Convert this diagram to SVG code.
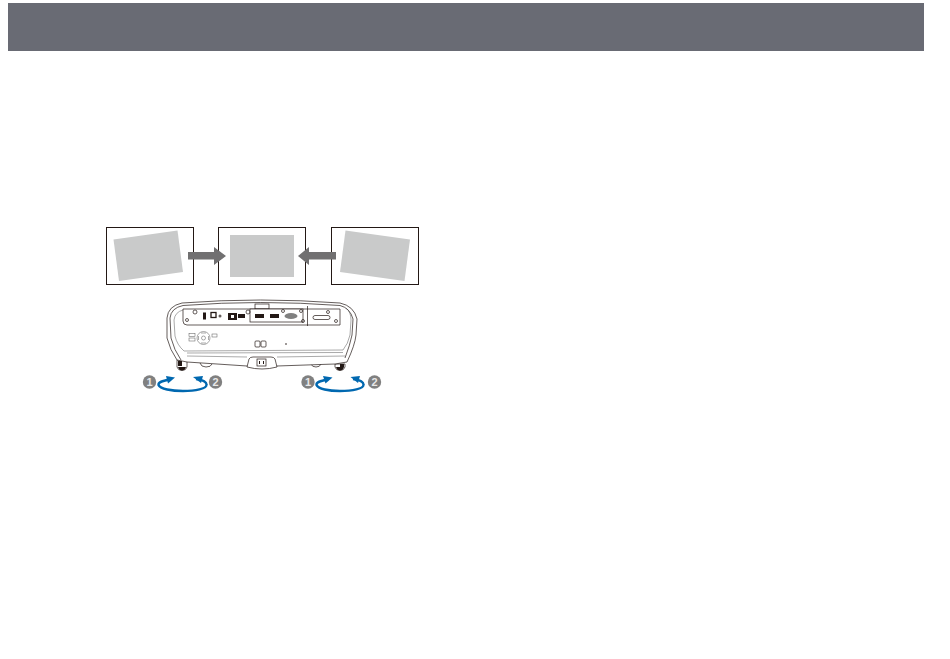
<svg xmlns="http://www.w3.org/2000/svg" width="950" height="659" viewBox="0 0 950 659">
<style>
.frame{fill:#fff;stroke:#231815;stroke-width:1}
.scr{fill:#c9caca}
.arrow{fill:#717071}
.ol{fill:none;stroke:#231815;stroke-width:.7}
.lt{fill:none;stroke:#555;stroke-width:.5}
.olw{fill:#fff;stroke:#231815;stroke-width:.7}
.blk{fill:#231815}
.rot{fill:none;stroke:#0068b0;stroke-width:2.400}
.rh{fill:#0068b0}
.bad{fill:#808080}
.num{font:bold 11px "Liberation Sans",Arial,sans-serif;fill:#e8e8e8;text-anchor:middle}
</style>
<rect width="950" height="659" fill="#fff"/>
<rect id="header" x="8" y="3" width="916" height="48" fill="#696b74"/>
<g id="screen-left"><rect class="frame" x="106.500" y="227.500" width="87" height="57"/><polygon class="scr" points="113.500,239.500 177.500,230.500 183,272 119,281"/></g>
<g id="screen-center"><rect class="frame" x="218.500" y="227.500" width="87" height="57"/><rect class="scr" x="230" y="235" width="64" height="42"/></g>
<g id="screen-right"><rect class="frame" x="331.500" y="227.500" width="87" height="57"/><polygon class="scr" points="345.500,230.500 410,239.500 404.500,281 340,272"/></g>
<g id="connectors">
<polygon class="arrow" points="188,252 214,252 214,247 226,256 214,265 214,259.500 188,259.500"/>
<polygon class="arrow" points="336,252 309,252 309,247 298,256 309,265 309,259.500 336,259.500"/>
</g>
<g id="projector">
<path class="olw" d="M177,360 h10 v7 q-1,3.500 -5,3.500 q-4,0 -5,-3.500z"/>
<path class="blk" d="M178,361 h4 v5 h-4z M178,367 h8 q-1,3.500 -4,3.500 q-3,0 -4,-3.500z"/>
<path class="olw" d="M335,364 h10 v3 q-1,3.500 -5,3.500 q-4,0 -5,-3.500z"/>
<path class="blk" d="M336,367 h8 q-1,3.500 -4,3.500 q-3,0 -4,-3.500z M340,364 h4 v3 h-4z"/>
<path class="ol" d="M200,363 q1,4 6,4 q5,0 6,-3 M311,364 q1,3 5,3 q4,0 5,-3"/>
<path class="olw" d="M167,318 Q168,306 182,303 Q260,297 340,303 Q354,306 357,319 L356,335 Q355,345 347,362 L335,364 L277,366 L247,366 L187,362 L177,360 Q170,350 167,338Z"/>
<path class="ol" d="M170,318 Q171,308 183,305.500 Q260,299.500 340,305.500 Q350,308 353,319 L352,335 Q350,345 345,358"/>
<path class="ol" d="M170,318 L171,338 Q174,350 181,360"/>
<path class="lt" d="M174,320 Q175,312 183,310 M346,308 Q351,312 351,320 L350,335 Q348,344 343,350 L184,351 Q177,345 175,336 L174,320"/>
<path class="lt" d="M187,353 L343,352.500"/>
<path class="ol" d="M183,309 L183,321 Q183,325 187,325 L305,325 M183,309 L305,309 M305,309 L340,309 L340,325 L305,325 M307.500,306 L307.500,326"/>
<rect class="ol" x="255" y="304" width="14" height="5"/>
<rect class="olw" x="250" y="309" width="53" height="13"/>
<rect class="blk" x="203" y="312.500" width="3" height="7"/>
<rect class="olw" x="211" y="312.500" width="5" height="5" style="stroke-width:1.300"/>
<circle class="blk" cx="220" cy="316" r="1.500" opacity=".7"/>
<rect class="blk" x="228" y="313" width="9" height="7"/>
<rect x="231" y="315" width="3" height="3" fill="#fff"/>
<rect class="blk" x="238" y="314" width="7" height="4"/>
<rect class="blk" x="255" y="314" width="9" height="4"/>
<rect class="blk" x="270" y="314" width="9" height="4"/>
<ellipse class="bad" cx="291" cy="316" rx="6.500" ry="3"/>
<circle class="ol" cx="195" cy="312" r="2"/><circle class="ol" cx="187" cy="320" r="1.500"/><circle class="ol" cx="248" cy="312" r="2"/><circle class="ol" cx="283" cy="311" r="1.500"/><circle class="ol" cx="301" cy="311" r="1.500"/><circle class="ol" cx="303" cy="321" r="1.500"/><circle class="ol" cx="328" cy="312" r="1.500"/><circle class="ol" cx="336" cy="321" r="1.500"/>
<rect class="ol" x="313" y="315.500" width="17" height="4" rx="2"/>
<rect class="lt" x="189" y="333.500" width="6" height="3"/><rect class="lt" x="189" y="338" width="6" height="3"/>
<circle class="lt" cx="203.500" cy="338" r="6.500"/><circle class="lt" cx="203.500" cy="338" r="2"/>
<path class="lt" d="M201,333 h5 M201,343 h5 M198.500,336 v4 M208.500,336 v4"/>
<rect class="lt" x="212" y="334" width="5" height="3"/>
<rect class="ol" x="255" y="341" width="5" height="6" rx="1"/><rect class="ol" x="261" y="341" width="5" height="6" rx="1"/>
<circle class="blk" cx="286" cy="344" r=".8"/>
<path class="lt" d="M187,356 L247,357 M277,357 L345,356"/>
<path class="olw" d="M247,367 L249,359 Q250,357 253,357 L271,357 Q274,357 275,359 L277,367 Q262,371 247,367Z"/>
<rect class="ol" x="257" y="359" width="9" height="7"/>
<path class="blk" d="M259,361h1v3h-1zM263,361h1v3h-1z"/>
</g>
<g id="rotate-left">
<path class="rot" d="M170,379.500 C162,381 158,382 158.500,385 C160,389 172,391 183,391 C195,391 207,389 206.500,384.500 C206.500,382 203,380 196,379"/>
<polygon class="rh" points="175,377.500 166,376 168,383.500"/>
<polygon class="rh" points="193,377 203,376 201,383"/>
</g>
<g id="rotate-right">
<path class="rot" d="M328,379.500 C320,381 316,382 316.500,385 C318,389 329,391 340,391 C352,391 364,389 363.500,384.500 C363.500,382 360,380 353,379"/>
<polygon class="rh" points="332.500,377.500 323,376 325.500,383.500"/>
<polygon class="rh" points="350.500,377 360,376 358,383"/>
</g>
<g id="label-1a"><circle class="bad" cx="149.500" cy="382" r="6.700"/><text class="num" x="149.500" y="386">1</text></g>
<g id="label-2a"><circle class="bad" cx="215.500" cy="382" r="6.700"/><text class="num" x="215.500" y="386">2</text></g>
<g id="label-1b"><circle class="bad" cx="308" cy="382" r="6.700"/><text class="num" x="308" y="386">1</text></g>
<g id="label-2b"><circle class="bad" cx="374.500" cy="382" r="6.700"/><text class="num" x="374.500" y="386">2</text></g>
</svg>
